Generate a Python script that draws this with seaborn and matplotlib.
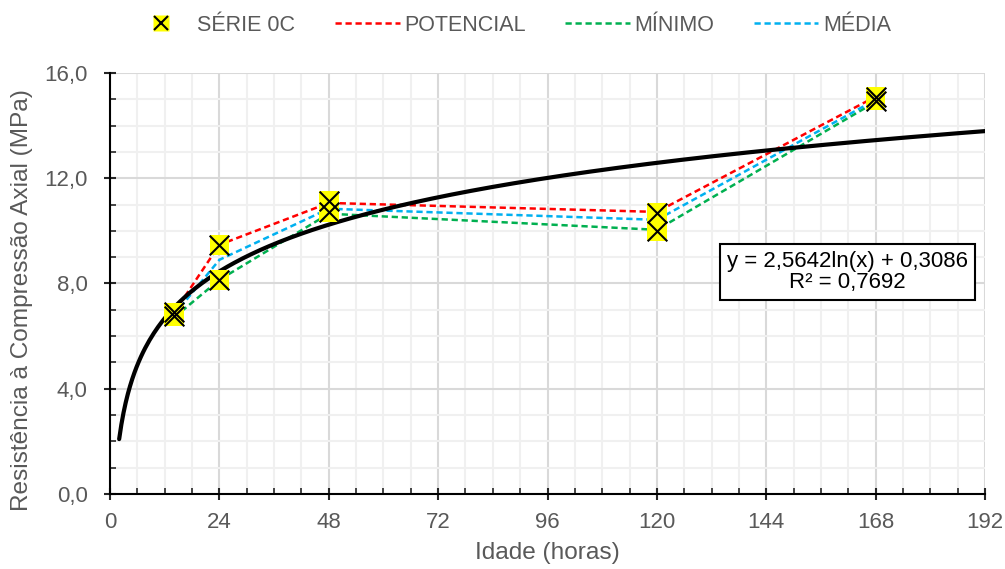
import numpy as np
import pandas as pd
import seaborn as sns
import matplotlib.pyplot as plt
from matplotlib.ticker import MultipleLocator, FuncFormatter
from matplotlib.lines import Line2D

# pontos da SÉRIE 0C (dois corpos de prova por idade)
idade_pts = [14, 14, 24, 24, 48, 48, 120, 120, 168, 168]
serie_0c = [6.9, 6.75, 9.47, 8.14, 11.15, 10.7, 10.68, 9.98, 15.1, 14.95]

# curvas por idade
idades = [14, 24, 48, 120, 168]
potencial = [6.88, 9.47, 11.06, 10.72, 15.1]
minimo = [6.7, 8.14, 10.65, 10.04, 14.9]
media = [6.8, 8.9, 10.84, 10.42, 14.98]

# linha de tendência logarítmica
coef_a = 2.5642
coef_b = 0.3086
r2 = 0.7692
x_ini, x_fim = 2, 192

sns.set_style('white')
plt.rcParams['font.family'] = ['Liberation Sans', 'DejaVu Sans']
cinza = '#595959'

fig = plt.figure(figsize=(10.05, 5.69), dpi=100)
ax = fig.add_axes([0.1095, 0.1318, 0.8706, 0.74])

df_pts = pd.DataFrame({'idade': idade_pts, 'res': serie_0c})
df_lin = pd.DataFrame({'idade': idades, 'POTENCIAL': potencial,
                       'MÍNIMO': minimo, 'MÉDIA': media})

xt = np.linspace(x_ini, x_fim, 400)
df_tend = pd.DataFrame({'idade': xt, 'res': coef_a * np.log(xt) + coef_b})

cores = {'POTENCIAL': '#FF0000', 'MÍNIMO': '#00B050', 'MÉDIA': '#00B0F0'}
for nome, cor in cores.items():
    sns.lineplot(data=df_lin, x='idade', y=nome, ax=ax, color=cor, lw=1.8,
                 linestyle=(0, (2.5, 1.5)), zorder=3)

sns.lineplot(data=df_tend, x='idade', y='res', ax=ax, color='black', lw=3, zorder=4)

sns.scatterplot(data=df_pts, x='idade', y='res', ax=ax, marker='s', s=200,
                color='#FFFF00', edgecolor='none', linewidth=0, zorder=5)
sns.scatterplot(data=df_pts, x='idade', y='res', ax=ax, marker='x', s=200,
                color='black', linewidth=1.5, zorder=6)

ax.set_xlim(0, 192)
ax.set_ylim(0, 16)
ax.xaxis.set_major_locator(MultipleLocator(24))
ax.xaxis.set_minor_locator(MultipleLocator(6))
ax.yaxis.set_major_locator(MultipleLocator(4))
ax.yaxis.set_minor_locator(MultipleLocator(1))
ax.yaxis.set_major_formatter(FuncFormatter(lambda v, p: f'{v:.1f}'.replace('.', ',')))

ax.grid(which='major', color='#D9D9D9', lw=1.5, zorder=0)
ax.grid(which='minor', color='#F0F0F0', lw=1.5, zorder=0)
ax.set_axisbelow(True)

for lado in ['top', 'right']:
    ax.spines[lado].set_visible(False)
for lado in ['left', 'bottom']:
    ax.spines[lado].set_color('black')
    ax.spines[lado].set_linewidth(1.5)

ax.tick_params(which='major', direction='inout', length=8, width=1.5,
               labelsize=16, labelcolor=cinza)
ax.tick_params(axis='y', which='major', pad=12)
ax.tick_params(axis='x', which='major', pad=9)
ax.tick_params(which='minor', direction='in', length=4, width=1.2)
ax.tick_params(left=True, bottom=True, which='both')

ax.set_xlabel('Idade (horas)', fontsize=17.6, color=cinza)
ax.set_ylabel('Resistência à Compressão Axial (MPa)', fontsize=17.6, color=cinza)
ax.xaxis.set_label_coords(0.50, -0.14)
ax.xaxis.label.set_va('center')
ax.yaxis.set_label_coords(-0.1006, 0.461)
ax.yaxis.label.set_va('center')

ax.text(0.843, 0.527,
        f'y = {coef_a:.4f}ln(x) + {coef_b:.4f}'.replace('.', ',') + '\n'
        + f'R² = {r2:.4f}'.replace('.', ','),
        transform=ax.transAxes, ha='center', va='center', fontsize=16,
        color='black', linespacing=1.0, zorder=7,
        bbox=dict(boxstyle='square,pad=0.3', fc='white', ec='black', lw=1.5))

h_serie = (Line2D([], [], ls='none', marker='s', ms=12, mfc='#FFFF00', mec='none'),
           Line2D([], [], ls='none', marker='x', ms=10, mec='black', mew=1.5))
handles = [h_serie] + [Line2D([], [], color=c, lw=1.8, linestyle=(0, (2.5, 1.5)))
                       for c in cores.values()]
labels = ['SÉRIE 0C'] + list(cores.keys())
leg = fig.legend(handles, labels, loc='center', bbox_to_anchor=(0.507, 0.956),
                 ncol=4, frameon=False, fontsize=15.5, handlelength=3,
                 handletextpad=0.2, columnspacing=1.85)
for t in leg.get_texts():
    t.set_color(cinza)

fig.savefig('out.png', dpi=100)
